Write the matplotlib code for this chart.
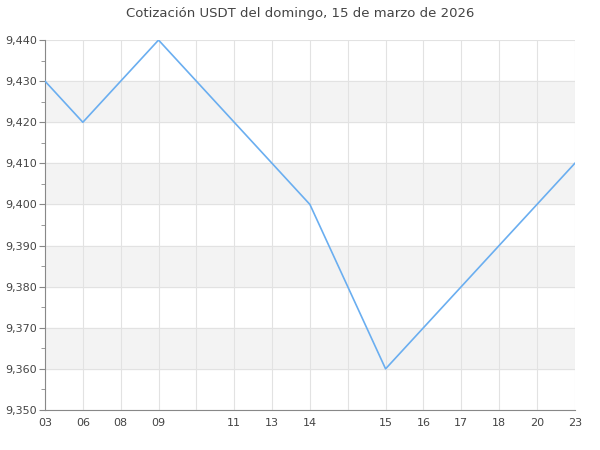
import matplotlib
matplotlib.use("Agg")
import matplotlib.pyplot as plt
from matplotlib.ticker import MultipleLocator, FuncFormatter

# etiquetas del eje x (posiciones sin etiqueta quedan vacías)
labels = ['03', '06', '08', '09', '', '11', '13', '14', '', '15', '16', '17', '18', '20', '23']
# puntos de la serie: índice de posición y cotización
point_pos = [0, 1, 3, 7, 9, 14]
point_val = [9430, 9420, 9440, 9400, 9360, 9410]

fig = plt.figure(figsize=(6, 4.5), dpi=100)
ax = fig.add_axes([0.075, 0.089, 0.883, 0.822])

# bandas alternas
for lo in range(9360, 9440, 20):
    ax.axhspan(lo, lo + 10, color='#f3f3f3', zorder=0)

ax.plot(point_pos, point_val, color='#6aaef0', lw=1.2, zorder=3)

ax.set_xlim(0, len(labels) - 1)
ax.set_ylim(9350, 9440)
ax.set_xticks(range(len(labels)))
ax.set_xticklabels(labels)
ax.yaxis.set_major_locator(MultipleLocator(10))
ax.yaxis.set_minor_locator(MultipleLocator(5))
ax.yaxis.set_major_formatter(FuncFormatter(lambda v, p: f"{v:,.0f}"))

ax.grid(True, which='major', color='#e2e2e2', lw=0.8, zorder=1)
for s in ['top', 'right']:
    ax.spines[s].set_visible(False)
for s in ['left', 'bottom']:
    ax.spines[s].set_color('#888888')
ax.tick_params(axis='x', length=0, pad=6, labelsize=8, colors='#444444')
ax.tick_params(axis='y', which='major', length=4, color='#888888', labelsize=8, labelcolor='#444444', pad=2)
ax.tick_params(axis='y', which='minor', length=3, color='#888888')

fig.suptitle('Cotización USDT del domingo, 15 de marzo de 2026', y=0.985, fontsize=9.5, color='#444444')
fig.savefig('out.png', dpi=100)
